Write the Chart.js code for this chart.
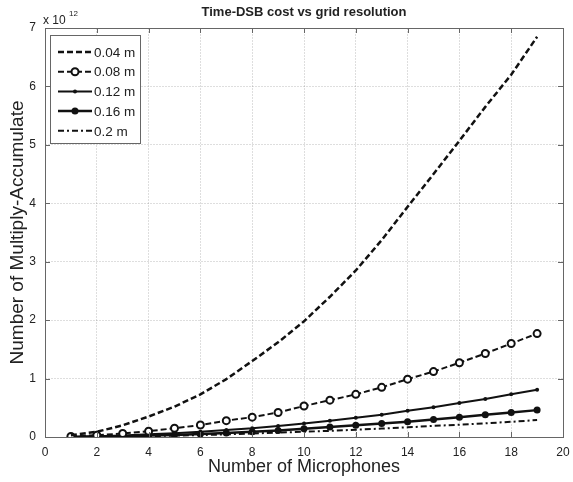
<!DOCTYPE html>
<html>
<head>
<meta charset="utf-8">
<title>Time-DSB cost vs grid resolution</title>
<script src="https://cdn.jsdelivr.net/npm/chart.js@4/dist/chart.umd.min.js"></script>
<style>
  html, body { margin: 0; padding: 0; background: #fff; }
  #cost-chart { display: block; }
</style>
</head>
<body>
<canvas id="cost-chart" width="573" height="482"></canvas>
<script>
const FONT = "'Liberation Sans', Arial, sans-serif";

// number of microphones
const micCounts = [1, 2, 3, 4, 5, 6, 7, 8, 9, 10, 11, 12, 13, 14, 15, 16, 17, 18, 19];

// multiply-accumulate counts, in units of 10^12
const mac004 = [0.03, 0.09, 0.2, 0.35, 0.52, 0.73, 0.99, 1.3, 1.62, 1.98, 2.4, 2.85, 3.37, 3.94, 4.5, 5.07, 5.65, 6.2, 6.85];
const mac008 = [0.01, 0.03, 0.06, 0.1, 0.15, 0.205, 0.28, 0.34, 0.42, 0.53, 0.63, 0.73, 0.85, 0.99, 1.12, 1.27, 1.43, 1.6, 1.77];
const mac012 = [0.004, 0.012, 0.025, 0.045, 0.065, 0.09, 0.12, 0.15, 0.19, 0.23, 0.28, 0.33, 0.38, 0.45, 0.51, 0.58, 0.65, 0.73, 0.81];
const mac016 = [0.002, 0.006, 0.014, 0.025, 0.035, 0.05, 0.07, 0.09, 0.11, 0.14, 0.17, 0.2, 0.23, 0.26, 0.3, 0.34, 0.38, 0.42, 0.46];
const mac020 = [0.001, 0.004, 0.008, 0.015, 0.023, 0.033, 0.045, 0.06, 0.075, 0.09, 0.105, 0.125, 0.145, 0.165, 0.19, 0.21, 0.235, 0.26, 0.29];

const seriesLabels = ["0.04 m", "0.08 m", "0.12 m", "0.16 m", "0.2 m"];
const xTicks = [0, 2, 4, 6, 8, 10, 12, 14, 16, 18, 20];
const yTicks = [0, 1, 2, 3, 4, 5, 6, 7];

function toPoints(values) {
  return values.map((v, i) => ({ x: micCounts[i], y: v }));
}

const datasets = [
  {
    label: seriesLabels[0],
    data: toPoints(mac004),
    borderColor: "#111",
    borderWidth: 2.5,
    borderDash: [6, 3],
    pointRadius: 0,
  },
  {
    label: seriesLabels[1],
    data: toPoints(mac008),
    borderColor: "#111",
    borderWidth: 2,
    borderDash: [6, 3],
    pointRadius: 3.5,
    pointBorderWidth: 2,
    pointBorderColor: "#111",
    pointBackgroundColor: "#fff",
  },
  {
    label: seriesLabels[2],
    data: toPoints(mac012),
    borderColor: "#111",
    borderWidth: 2,
    pointRadius: 2,
    pointBorderWidth: 0,
    pointBackgroundColor: "#111",
  },
  {
    label: seriesLabels[3],
    data: toPoints(mac016),
    borderColor: "#111",
    borderWidth: 2.5,
    pointRadius: 3.5,
    pointBorderWidth: 0,
    pointBackgroundColor: "#111",
  },
  {
    label: seriesLabels[4],
    data: toPoints(mac020),
    borderColor: "#111",
    borderWidth: 2,
    borderDash: [6, 3, 2, 3],
    pointRadius: 0,
  },
];

// box round the axes, inward tick marks and the x10^12 multiplier
const axesFrame = {
  id: "axesFrame",
  afterDraw(chart) {
    const { ctx, chartArea: a, scales } = chart;
    ctx.save();
    ctx.strokeStyle = "#666";
    ctx.lineWidth = 1;
    ctx.beginPath();
    for (const t of xTicks) {
      const px = Math.round(scales.x.getPixelForValue(t)) + 0.5;
      ctx.moveTo(px, a.bottom); ctx.lineTo(px, a.bottom - 5);
      ctx.moveTo(px, a.top); ctx.lineTo(px, a.top + 5);
    }
    for (const t of yTicks) {
      const py = Math.round(scales.y.getPixelForValue(t)) + 0.5;
      ctx.moveTo(a.left, py); ctx.lineTo(a.left + 5, py);
      ctx.moveTo(a.right, py); ctx.lineTo(a.right - 5, py);
    }
    ctx.stroke();
    ctx.strokeRect(Math.round(a.left) + 0.5, Math.round(a.top) + 0.5,
      Math.round(a.width), Math.round(a.height));

    ctx.fillStyle = "#222";
    ctx.textBaseline = "alphabetic";
    ctx.textAlign = "left";
    ctx.font = `12px ${FONT}`;
    ctx.fillText("x 10", a.left - 2, 24);
    ctx.font = `8px ${FONT}`;
    ctx.fillText("12", a.left + 24, 16);
    ctx.restore();
  },
};

// legend box in the upper-left corner of the axes
const lineLegend = {
  id: "lineLegend",
  afterDatasetsDraw(chart) {
    const { ctx, chartArea: a } = chart;
    const box = { x: a.left + 5, y: a.top + 7, w: 90, h: 108 };
    const rowGap = 19.7;
    ctx.save();
    ctx.fillStyle = "#fff";
    ctx.fillRect(box.x, box.y, box.w, box.h);
    ctx.strokeStyle = "#666";
    ctx.lineWidth = 1;
    ctx.strokeRect(box.x + 0.5, box.y + 0.5, box.w, box.h);

    chart.data.datasets.forEach((ds, i) => {
      const cy = box.y + 17 + i * rowGap;
      const x0 = box.x + 8;
      const x1 = box.x + 42;
      ctx.strokeStyle = ds.borderColor;
      ctx.lineWidth = ds.borderWidth;
      ctx.setLineDash(ds.borderDash || []);
      ctx.beginPath();
      ctx.moveTo(x0, cy);
      ctx.lineTo(x1, cy);
      ctx.stroke();
      ctx.setLineDash([]);
      if (ds.pointRadius > 0) {
        ctx.beginPath();
        ctx.arc((x0 + x1) / 2, cy, ds.pointRadius, 0, Math.PI * 2);
        ctx.fillStyle = ds.pointBackgroundColor;
        ctx.fill();
        if (ds.pointBorderWidth) {
          ctx.lineWidth = ds.pointBorderWidth;
          ctx.strokeStyle = ds.pointBorderColor;
          ctx.stroke();
        }
      }
      ctx.fillStyle = "#222";
      ctx.font = `13.5px ${FONT}`;
      ctx.textAlign = "left";
      ctx.textBaseline = "middle";
      ctx.fillText(ds.label, x1 + 2, cy + 1);
    });
    ctx.restore();
  },
};

new Chart(document.getElementById("cost-chart"), {
  type: "line",
  data: { datasets },
  options: {
    responsive: false,
    animation: false,
    layout: { padding: { left: 5, right: 10, top: 0, bottom: 0 } },
    elements: { line: { tension: 0 } },
    plugins: {
      legend: { display: false },
      tooltip: { enabled: false },
      title: {
        display: true,
        text: "Time-DSB cost vs grid resolution",
        fullSize: false,
        color: "#222",
        font: { family: FONT, size: 13, weight: "bold" },
        padding: { top: 5, bottom: 7.4 },
      },
    },
    scales: {
      x: {
        type: "linear",
        min: 0,
        max: 20,
        afterBuildTicks(scale) {
          scale.ticks = xTicks.map((v) => ({ value: v }));
        },
        afterFit(scale) {
          scale.height = 45;
          scale.paddingLeft = 0;
          scale.paddingRight = 0;
        },
        grid: { color: "rgba(0,0,0,0.13)", drawTicks: false },
        border: { display: false, dash: [2, 1] },
        ticks: {
          padding: 8,
          color: "#222",
          font: { family: FONT, size: 12 },
          maxRotation: 0,
        },
        title: {
          display: true,
          text: "Number of Microphones",
          color: "#222",
          font: { family: FONT, size: 18 },
          padding: { top: 4, bottom: 4 },
        },
      },
      y: {
        type: "linear",
        min: 0,
        max: 7,
        afterBuildTicks(scale) {
          scale.ticks = yTicks.map((v) => ({ value: v }));
        },
        afterFit(scale) {
          scale.width = 40;
        },
        grid: { color: "rgba(0,0,0,0.13)", drawTicks: false },
        border: { display: false, dash: [2, 1] },
        ticks: {
          padding: 9,
          color: "#222",
          font: { family: FONT, size: 12 },
        },
        title: {
          display: true,
          text: "Number of Multiply-Accumulate",
          color: "#222",
          font: { family: FONT, size: 19 },
          padding: { top: 1, bottom: 1 },
        },
      },
    },
  },
  plugins: [axesFrame, lineLegend],
});
</script>
</body>
</html>
